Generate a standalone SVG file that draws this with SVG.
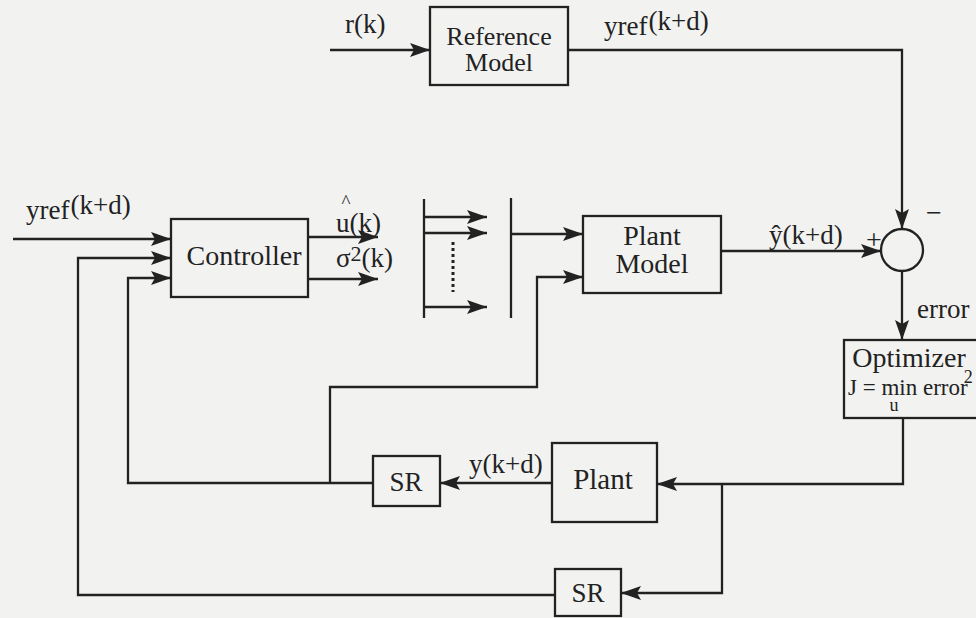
<svg xmlns="http://www.w3.org/2000/svg" width="976" height="618" viewBox="0 0 976 618">
<style>
text{font-family:"Liberation Serif","Times New Roman",serif;fill:#222;}
.box{fill:none;stroke:#222;stroke-width:2.3;}
.ln{fill:none;stroke:#222;stroke-width:2.3;}
.lbl{font-size:27px;}
.bt{font-size:28px;text-anchor:middle;}
</style>
<defs>
<marker id="ah" markerUnits="userSpaceOnUse" markerWidth="22" markerHeight="16" refX="20" refY="7.5" orient="auto">
<path d="M0,0.5 L20,7.5 L0,14.5 L4,7.5 z" fill="#222"/>
</marker>
</defs>
<rect width="976" height="618" fill="#f2f2f1"/>

<g id="connectors">
<path class="ln" d="M330,50 H430" marker-end="url(#ah)"/>
<path class="ln" d="M568,50 H902 V229" marker-end="url(#ah)"/>
<path class="ln" d="M13,239 H171" marker-end="url(#ah)"/>
<path class="ln" d="M555,595 H78 V258 H171" marker-end="url(#ah)"/>
<path class="ln" d="M373,483 H128 V278 H171" marker-end="url(#ah)"/>
<path class="ln" d="M308,237 H378" marker-end="url(#ah)"/>
<path class="ln" d="M308,279 H378" marker-end="url(#ah)"/>
<path class="ln" d="M424,199 V318"/>
<path class="ln" d="M424,217 H487" marker-end="url(#ah)"/>
<path class="ln" d="M424,233 H487" marker-end="url(#ah)"/>
<path class="ln" d="M424,307 H487" marker-end="url(#ah)"/>
<path d="M453,242 V292" stroke="#222" stroke-width="3" stroke-dasharray="3,3" fill="none"/>
<path class="ln" d="M511,198 V318"/>
<path class="ln" d="M511,234 H583" marker-end="url(#ah)"/>
<path class="ln" d="M330,483 V387 H537 V277 H583" marker-end="url(#ah)"/>
<path class="ln" d="M721,251 H881" marker-end="url(#ah)"/>
<path class="ln" d="M902,271 V340" marker-end="url(#ah)"/>
<path class="ln" d="M903,418 V484 H657" marker-end="url(#ah)"/>
<path class="ln" d="M722,484 V593 H621" marker-end="url(#ah)"/>
<path class="ln" d="M552,483 H440" marker-end="url(#ah)"/>
</g>

<g id="reference-model">
<rect class="box" x="430" y="7" width="138" height="78"/>
<text class="bt" x="499" y="45" style="font-size:26px">Reference</text>
<text class="bt" x="499" y="71" style="font-size:26px">Model</text>
</g>

<g id="controller">
<rect class="box" x="171" y="219" width="137" height="78"/>
<text class="bt" x="244" y="265">Controller</text>
</g>

<g id="plant-model">
<rect class="box" x="583" y="216" width="138" height="77"/>
<text class="bt" x="652" y="245">Plant</text>
<text class="bt" x="652" y="273">Model</text>
</g>

<g id="sum">
<circle class="box" cx="902" cy="250" r="21"/>
</g>

<g id="optimizer">
<rect class="box" x="844" y="340" width="150" height="78"/>
<text x="909" y="367" style="font-size:28px;text-anchor:middle">Optimizer</text>
<text x="848" y="395" style="font-size:23px">J = min error<tspan dx="-4" y="383" style="font-size:18px">2</tspan></text>
<text x="894" y="411" style="font-size:18px;text-anchor:middle">u</text>
</g>

<g id="plant">
<rect class="box" x="552" y="443" width="105" height="79"/>
<text class="bt" x="603" y="489" style="font-size:29px">Plant</text>
</g>

<g id="sr1">
<rect class="box" x="373" y="456" width="67" height="50"/>
<text class="bt" x="406" y="491" style="font-size:27px">SR</text>
</g>

<g id="sr2">
<rect class="box" x="555" y="569" width="66" height="47"/>
<text class="bt" x="588" y="602" style="font-size:27px">SR</text>
</g>

<g id="labels">
<text class="lbl" x="345" y="33">r(k)</text>
<text class="lbl" x="604" y="35">yref<tspan dx="1" dy="-5">(k+d)</tspan></text>
<text class="lbl" x="26" y="219">yref<tspan dx="1" dy="-5">(k+d)</tspan></text>
<text x="346" y="208" style="font-size:19px;text-anchor:middle">^</text>
<text class="lbl" x="336" y="232">u(k)</text>
<text class="lbl" x="336" y="267">σ<tspan dy="-6" style="font-size:22px">2</tspan><tspan dy="6">(k)</tspan></text>
<text class="lbl" x="769" y="244">ŷ(k+d)</text>
<text x="874" y="249" style="font-size:28px;text-anchor:middle">+</text>
<text x="934" y="222" style="font-size:28px;text-anchor:middle">−</text>
<text class="lbl" x="917" y="318">error</text>
<text class="lbl" x="469" y="473">y(k+d)</text>
</g>
</svg>
